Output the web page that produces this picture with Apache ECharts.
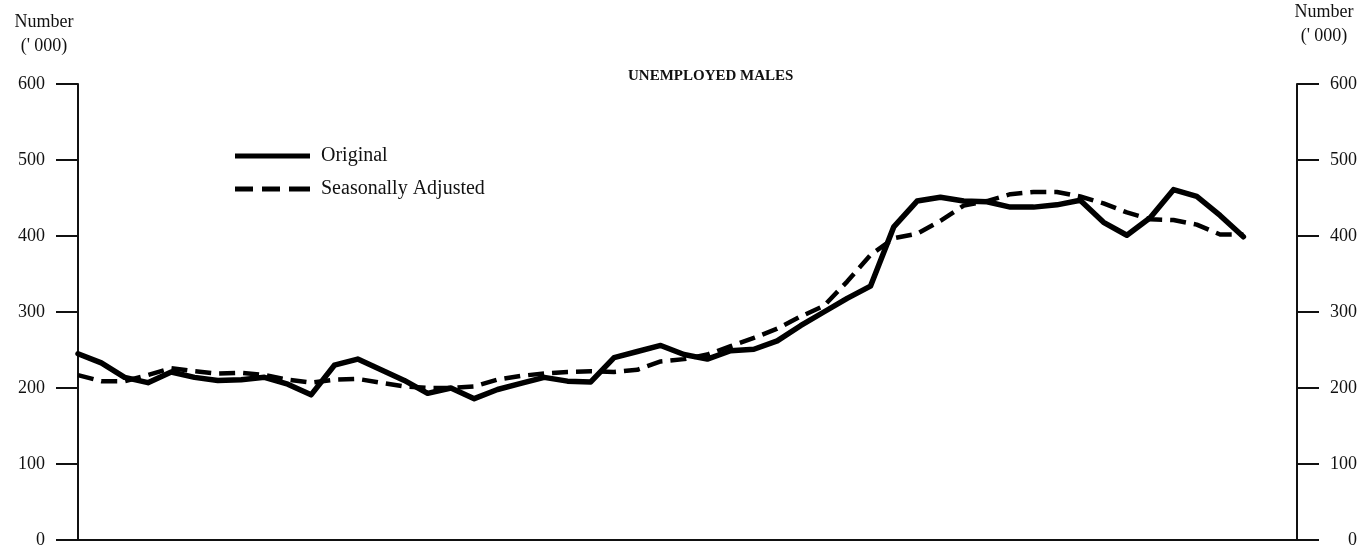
<!DOCTYPE html>
<html>
<head>
<meta charset="utf-8">
<script src="https://cdn.jsdelivr.net/npm/echarts@6/dist/echarts.min.js"></script>
<style>
  html, body { margin: 0; padding: 0; background: #fff; }
  #main { width: 1370px; height: 549px; }
</style>
</head>
<body>
<div id="main"></div>
<script>
// unemployed males, thousands, one value per period
const original = [
  245, 233, 214, 207, 221, 214, 210, 211, 214, 205,
  191, 230, 238, 224, 210, 193, 200, 186, 198, 206,
  214, 209, 208, 240, 248, 256, 244, 238, 249, 251,
  262, 282, 300, 318, 334, 412, 446, 451, 446, 445,
  438, 438, 441, 447, 418, 401, 424, 461, 452, 427,
  399
];
const seasonallyAdjusted = [
  217, 209, 209, 217, 226, 222, 219, 220, 217, 211,
  207, 211, 212, 207, 202, 200, 200, 202, 211, 216,
  219, 221, 222, 221, 224, 235, 238, 244, 255, 266,
  278, 294, 308, 340, 375, 397, 403, 420, 440, 446,
  455, 458, 458, 452, 443, 431, 422, 421, 415, 402,
  402
];
const yTicks = [0, 100, 200, 300, 400, 500, 600];

const toPairs = arr => arr.map((v, i) => [i, v]);
const serif = 'Liberation Serif';
const ink = '#111';

// legend keys drawn as plain bars: one solid, one broken into dashes
const solidKey = 'path://M0,0H75V5H0Z';
const dashKey = 'path://M0,0H18V5H0Z M27,0H45V5H27Z M54,0H75V5H54Z';

const chart = echarts.init(document.getElementById('main'));

const yAxisBase = {
  type: 'value',
  min: yTicks[0],
  max: yTicks[yTicks.length - 1],
  interval: 100,
  splitLine: { show: false },
  axisLine: { show: true, lineStyle: { color: ink, width: 2 } },
  axisTick: { show: true, length: 22, lineStyle: { color: ink, width: 2 } },
  nameLocation: 'end',
  nameTextStyle: { fontFamily: serif, fontSize: 18, color: ink, lineHeight: 24 }
};

chart.setOption({
  backgroundColor: '#fff',
  animation: false,
  title: {
    text: 'UNEMPLOYED MALES',
    left: 623,
    top: 64,
    textStyle: { fontFamily: serif, fontSize: 15, fontWeight: 'bold', color: ink }
  },
  legend: {
    orient: 'vertical',
    left: 230,
    top: 141,
    itemWidth: 75,
    itemHeight: 5,
    itemGap: 13,
    symbolKeepAspect: false,
    textStyle: { fontFamily: serif, fontSize: 20, color: ink, padding: [0, 0, 0, 6] },
    data: [
      { name: 'Original', icon: solidKey },
      { name: 'Seasonally Adjusted', icon: dashKey }
    ]
  },
  grid: { left: 78, right: 73, top: 84, bottom: 9 },
  xAxis: {
    type: 'value',
    min: 0,
    max: 52.3,
    axisLine: { show: true, onZero: false, lineStyle: { color: ink, width: 2 } },
    axisTick: { show: false },
    axisLabel: { show: false },
    splitLine: { show: false }
  },
  yAxis: [
    Object.assign({}, yAxisBase, {
      position: 'left',
      name: "Number\n(' 000)",
      nameGap: 26,
      nameTextStyle: Object.assign({}, yAxisBase.nameTextStyle, { align: 'center', padding: [0, 68, 0, 0] }),
      axisLabel: { margin: 33, align: 'right', fontFamily: serif, fontSize: 18, color: ink }
    }),
    Object.assign({}, yAxisBase, {
      position: 'right',
      name: "Number\n(' 000)",
      nameGap: 36,
      nameTextStyle: Object.assign({}, yAxisBase.nameTextStyle, { align: 'center', padding: [0, 0, 0, 54] }),
      axisLabel: { margin: 60, align: 'right', fontFamily: serif, fontSize: 18, color: ink }
    })
  ],
  series: [
    {
      name: 'Original',
      type: 'line',
      data: toPairs(original),
      symbol: 'none',
      lineStyle: { color: '#000', width: 5.5, cap: 'round', join: 'round' },
      itemStyle: { color: '#000' }
    },
    {
      name: 'Seasonally Adjusted',
      type: 'line',
      data: toPairs(seasonallyAdjusted),
      symbol: 'none',
      lineStyle: { color: '#000', width: 4.5, type: [16, 8], cap: 'butt', join: 'round' },
      itemStyle: { color: '#000' }
    }
  ]
});
</script>
</body>
</html>
